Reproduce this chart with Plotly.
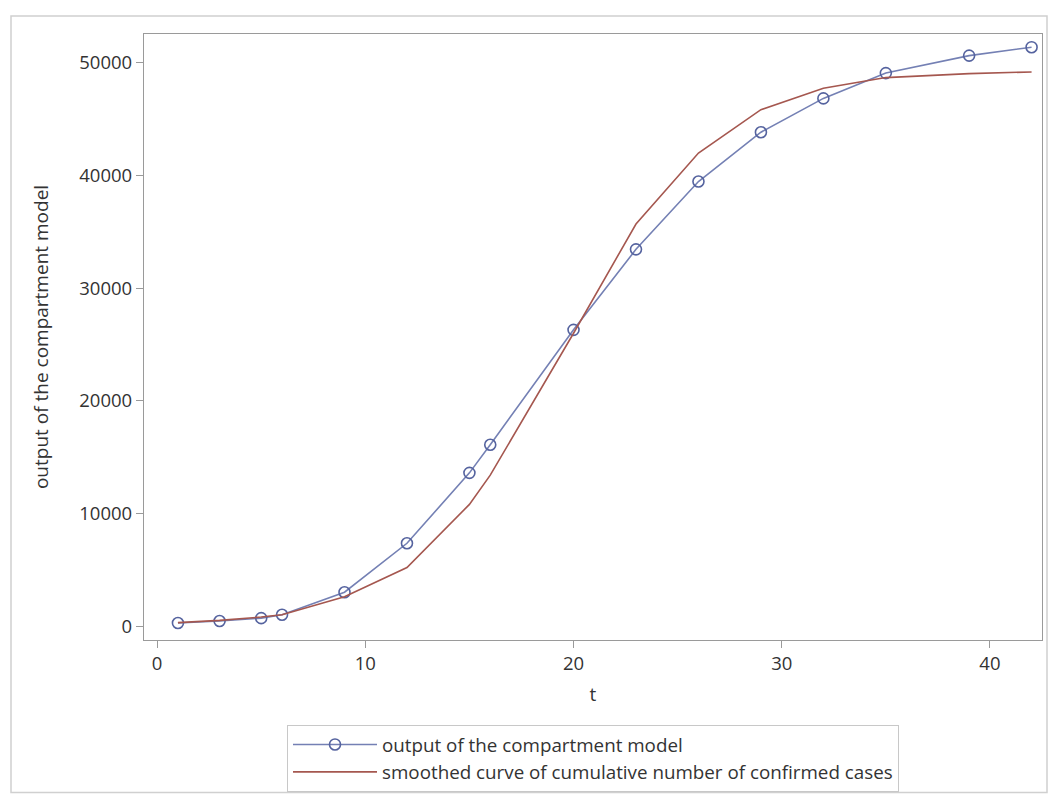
import plotly.graph_objects as go

t_model = [1, 3, 5, 6, 9, 12, 15, 16, 20, 23, 26, 29, 32, 35, 39, 42]
model_output = [270, 450, 700, 1000, 3000, 7350, 13600, 16100, 26300, 33450,
                39470, 43850, 46850, 49100, 50650, 51400]
t_smooth = [1, 3, 5, 6, 9, 12, 15, 16, 20, 23, 26, 29, 32, 35, 39, 42]
smoothed = [300, 500, 800, 1000, 2600, 5200, 10800, 13400, 26000, 35700,
            42000, 45850, 47750, 48700, 49050, 49200]

x_ticks = [0, 10, 20, 30, 40]
y_ticks = [0, 10000, 20000, 30000, 40000, 50000]

FONT = "Open Sans"
TXT = "#333333"

fig = go.Figure()
fig.add_trace(go.Scatter(
    x=t_model, y=model_output, mode="lines+markers",
    name="output of the compartment model",
    line=dict(color="#7480b4", width=1.6),
    marker=dict(symbol="circle-open", size=11, color="#55639f",
                line=dict(width=1.6, color="#55639f")),
))
fig.add_trace(go.Scatter(
    x=t_smooth, y=smoothed, mode="lines",
    name="smoothed curve of cumulative number of confirmed cases",
    line=dict(color="#a5574f", width=1.6),
))

L, R, T, B = 144, 1042, 34, 642
W, H = 1049, 799
pw, ph = R - L, B - T

def px(x):
    return (x - L) / pw

def py(y):
    return (B - y) / ph

fig.update_layout(
    width=W, height=H,
    margin=dict(l=L, r=W - R, t=T, b=H - B, pad=0),
    paper_bgcolor="white", plot_bgcolor="white",
    font=dict(family=FONT, size=18, color=TXT),
    showlegend=True,
    legend=dict(
        x=px(287), y=py(727), xanchor="left", yanchor="top",
        bordercolor="#c8c8c8", borderwidth=1, bgcolor="white",
        font=dict(family=FONT, size=18.8, color=TXT),
        tracegroupgap=0, itemwidth=84,
    ),
    xaxis=dict(
        range=[-0.63, 42.5], tickvals=x_ticks, ticks="outside", ticklen=7,
        tickcolor="#9a9a9a", showline=True, linecolor="#9a9a9a", linewidth=1.2,
        mirror=True, showgrid=False, zeroline=False,
        tickfont=dict(size=18.5, color=TXT),
        title=dict(text="t", font=dict(size=19, color=TXT), standoff=13),
    ),
    yaxis=dict(
        range=[-1240, 52570], tickvals=y_ticks, tickformat="d", ticks="outside",
        ticklen=7, tickcolor="#9a9a9a", showline=True, linecolor="#9a9a9a",
        linewidth=1.2, mirror=True, showgrid=False, zeroline=False,
        tickfont=dict(size=18.5, color=TXT),
        title=dict(text="output of the compartment model",
                   font=dict(size=19, color=TXT), standoff=25),
    ),
    shapes=[dict(
        type="rect", xref="paper", yref="paper",
        x0=px(11), x1=px(1047), y0=py(795), y1=py(16),
        line=dict(color="#d0d0d0", width=1.5), fillcolor="rgba(0,0,0,0)",
        layer="below",
    )],
)

fig.write_html("out.html")
